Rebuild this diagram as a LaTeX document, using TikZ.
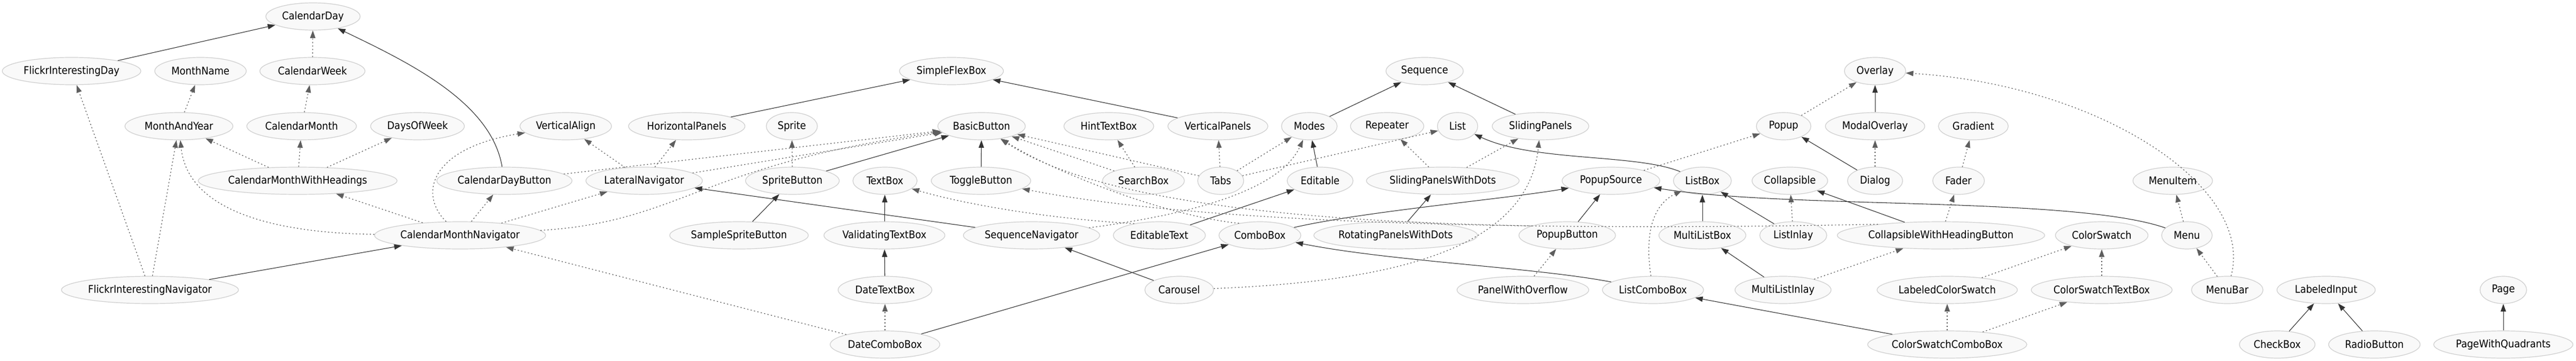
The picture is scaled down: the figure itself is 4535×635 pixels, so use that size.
\documentclass[tikz,border=0pt]{standalone}
\usepackage{fontspec}
\setmainfont{DejaVu Sans Condensed}
\usetikzlibrary{shapes.geometric,arrows.meta}
\definecolor{edgedark}{HTML}{333333}
\definecolor{edgegray}{HTML}{5E5E5E}
\definecolor{nodeborder}{HTML}{D0D0D0}
\definecolor{nodefill}{HTML}{F9F9F9}
\begin{document}
\begin{tikzpicture}[x=0.75pt,y=-0.75pt,
  nd/.style={ellipse,draw=nodeborder,fill=nodefill,line width=0.9pt,minimum height=36pt,inner xsep=1pt,inner ysep=1pt,font=\fontsize{14}{16}\selectfont},
  nw/.style={minimum width=#1*0.75pt},
  inhedge/.style={draw=edgedark,line width=0.8pt,-{Triangle[length=10pt,width=7pt]}},
  useedge/.style={draw=edgegray,line width=0.9pt,dash pattern=on 1.6pt off 3pt,-{Triangle[length=10pt,width=7pt]}}]
\fill[white] (0,0) rectangle (4535,635);
\useasboundingbox (0,0) rectangle (4535,635);
% row 0
\node[nd,nw=166] (CalendarDay) at (551,29) {CalendarDay};
% row 1
\node[nd,nw=244] (FlickrInterestingDay) at (126,125) {FlickrInterestingDay};
\node[nd,nw=161] (MonthName) at (353,125) {MonthName};
\node[nd,nw=185] (CalendarWeek) at (550,125) {CalendarWeek};
\node[nd,nw=183] (SimpleFlexBox) at (1675,125) {SimpleFlexBox};
\node[nd,nw=136] (Sequence) at (2508,125) {Sequence};
\node[nd,nw=108] (Overlay) at (3301,125) {Overlay};
% row 2
\node[nd,nw=190] (MonthAndYear) at (315,222) {MonthAndYear};
\node[nd,nw=193] (CalendarMonth) at (531,222) {CalendarMonth};
\node[nd,nw=165] (DaysOfWeek) at (735,222) {DaysOfWeek};
\node[nd,nw=161] (VerticalAlign) at (996,222) {VerticalAlign};
\node[nd,nw=205] (HorizontalPanels) at (1209,222) {HorizontalPanels};
\node[nd,nw=90] (Sprite) at (1394,222) {Sprite};
\node[nd,nw=154] (BasicButton) at (1728,222) {BasicButton};
\node[nd,nw=158] (HintTextBox) at (1952,222) {HintTextBox};
\node[nd,nw=176] (VerticalPanels) at (2144,222) {VerticalPanels};
\node[nd,nw=98] (Modes) at (2305,222) {Modes};
\node[nd,nw=129] (Repeater) at (2442,222) {Repeater};
\node[nd,nw=71] (List) at (2566,222) {List};
\node[nd,nw=170] (SlidingPanels) at (2712,222) {SlidingPanels};
\node[nd,nw=96] (Popup) at (3140,222) {Popup};
\node[nd,nw=175] (ModalOverlay) at (3301,222) {ModalOverlay};
\node[nd,nw=123] (Gradient) at (3474,222) {Gradient};
% row 3
\node[nd,nw=343] (CalendarMonthWithHeadings) at (524,318) {CalendarMonthWithHeadings};
\node[nd,nw=238] (CalendarDayButton) at (888,318) {CalendarDayButton};
\node[nd,nw=205] (LateralNavigator) at (1134,318) {LateralNavigator};
\node[nd,nw=165] (SpriteButton) at (1395,318) {SpriteButton};
\node[nd,nw=113] (TextBox) at (1558,318) {TextBox};
\node[nd,nw=175] (ToggleButton) at (1727,318) {ToggleButton};
\node[nd,nw=144] (SearchBox) at (2013,318) {SearchBox};
\node[nd,nw=81] (Tabs) at (2149,318) {Tabs};
\node[nd,nw=116] (Editable) at (2324,318) {Editable};
\node[nd,nw=269] (SlidingPanelsWithDots) at (2540,318) {SlidingPanelsWithDots};
\node[nd,nw=172] (PopupSource) at (2836,318) {PopupSource};
\node[nd,nw=102] (ListBox) at (2997,318) {ListBox};
\node[nd,nw=129] (Collapsible) at (3151,318) {Collapsible};
\node[nd,nw=97] (Dialog) at (3301,318) {Dialog};
\node[nd,nw=91] (Fader) at (3448,318) {Fader};
\node[nd,nw=140] (MenuItem) at (3825,318) {MenuItem};
% row 4
\node[nd,nw=297] (CalendarMonthNavigator) at (810,414) {CalendarMonthNavigator};
\node[nd,nw=244] (SampleSpriteButton) at (1301,414) {SampleSpriteButton};
\node[nd,nw=208] (ValidatingTextBox) at (1557,414) {ValidatingTextBox};
\node[nd,nw=240] (SequenceNavigator) at (1816,414) {SequenceNavigator};
\node[nd,nw=162] (EditableText) at (2041,414) {EditableText};
\node[nd,nw=144] (ComboBox) at (2218,414) {ComboBox};
\node[nd,nw=287] (RotatingPanelsWithDots) at (2457,414) {RotatingPanelsWithDots};
\node[nd,nw=170] (PopupButton) at (2759,414) {PopupButton};
\node[nd,nw=153] (MultiListBox) at (2997,414) {MultiListBox};
\node[nd,nw=118] (ListInlay) at (3157,414) {ListInlay};
\node[nd,nw=353] (CollapsibleWithHeadingButton) at (3417,414) {CollapsibleWithHeadingButton};
\node[nd,nw=163] (ColorSwatch) at (3700,414) {ColorSwatch};
\node[nd,nw=89] (Menu) at (3850,414) {Menu};
% row 5
\node[nd,nw=306] (FlickrInterestingNavigator) at (264,510) {FlickrInterestingNavigator};
\node[nd,nw=165] (DateTextBox) at (1558,510) {DateTextBox};
\node[nd,nw=121] (Carousel) at (2076,510) {Carousel};
\node[nd,nw=232] (PanelWithOverflow) at (2681,510) {PanelWithOverflow};
\node[nd,nw=178] (ListComboBox) at (2910,510) {ListComboBox};
\node[nd,nw=169] (MultiListInlay) at (3139,510) {MultiListInlay};
\node[nd,nw=247] (LabeledColorSwatch) at (3428,510) {LabeledColorSwatch};
\node[nd,nw=248] (ColorSwatchTextBox) at (3700,510) {ColorSwatchTextBox};
\node[nd,nw=126] (MenuBar) at (3921,510) {MenuBar};
\node[nd,nw=173] (LabeledInput) at (4095,510) {LabeledInput};
\node[nd,nw=82] (Page) at (4407,510) {Page};
% row 6
\node[nd,nw=193] (DateComboBox) at (1558,606) {DateComboBox};
\node[nd,nw=277] (ColorSwatchComboBox) at (3428,606) {ColorSwatchComboBox};
\node[nd,nw=133] (CheckBox) at (4009,606) {CheckBox};
\node[nd,nw=161] (RadioButton) at (4180,606) {RadioButton};
\node[nd,nw=245] (PageWithQuadrants) at (4407,606) {PageWithQuadrants};

% solid (inheritance) edges
\draw[inhedge] (FlickrInterestingDay) -- (CalendarDay);
\draw[inhedge] (CalendarDayButton) .. controls (865,180) and (720,110) .. (CalendarDay);
\draw[inhedge] (HorizontalPanels) -- (SimpleFlexBox);
\draw[inhedge] (VerticalPanels) -- (SimpleFlexBox);
\draw[inhedge] (Modes) -- (Sequence);
\draw[inhedge] (SlidingPanels) -- (Sequence);
\draw[inhedge] (ModalOverlay) -- (Overlay);
\draw[inhedge] (SpriteButton) -- (BasicButton);
\draw[inhedge] (ToggleButton) -- (BasicButton);
\draw[inhedge] (Editable) -- (Modes);
\draw[inhedge] (ListBox) .. controls (2880,270) and (2700,285) .. (List);
\draw[inhedge] (Dialog) -- (Popup);
\draw[inhedge] (CollapsibleWithHeadingButton) -- (Collapsible);
\draw[inhedge] (SampleSpriteButton) -- (SpriteButton);
\draw[inhedge] (ValidatingTextBox) -- (TextBox);
\draw[inhedge] (SequenceNavigator) -- (LateralNavigator);
\draw[inhedge] (EditableText) -- (Editable);
\draw[inhedge] (ComboBox) .. controls (2400,372) and (2650,350) .. (PopupSource);
\draw[inhedge] (RotatingPanelsWithDots) -- (SlidingPanelsWithDots);
\draw[inhedge] (PopupButton) -- (PopupSource);
\draw[inhedge] (MultiListBox) -- (ListBox);
\draw[inhedge] (ListInlay) -- (ListBox);
\draw[inhedge] (Menu) .. controls (3650,345) and (3150,368) .. (PopupSource);
\draw[inhedge] (FlickrInterestingNavigator) -- (CalendarMonthNavigator);
\draw[inhedge] (DateTextBox) -- (ValidatingTextBox);
\draw[inhedge] (Carousel) -- (SequenceNavigator);
\draw[inhedge] (ListComboBox) .. controls (2700,470) and (2450,460) .. (ComboBox);
\draw[inhedge] (MultiListInlay) -- (MultiListBox);
\draw[inhedge] (CheckBox) -- (LabeledInput);
\draw[inhedge] (RadioButton) -- (LabeledInput);
\draw[inhedge] (PageWithQuadrants) -- (Page);
\draw[inhedge] (DateComboBox) -- (ComboBox);
\draw[inhedge] (ColorSwatchComboBox) -- (ListComboBox);

% dotted (usage) edges
\draw[useedge] (CalendarWeek) -- (CalendarDay);
\draw[useedge] (MonthAndYear) -- (MonthName);
\draw[useedge] (CalendarMonth) -- (CalendarWeek);
\draw[useedge] (CalendarMonthWithHeadings) -- (MonthAndYear);
\draw[useedge] (CalendarMonthWithHeadings) -- (CalendarMonth);
\draw[useedge] (CalendarMonthWithHeadings) -- (DaysOfWeek);
\draw[useedge] (CalendarDayButton) -- (BasicButton);
\draw[useedge] (LateralNavigator) -- (VerticalAlign);
\draw[useedge] (LateralNavigator) -- (HorizontalPanels);
\draw[useedge] (LateralNavigator) -- (BasicButton);
\draw[useedge] (SpriteButton) -- (Sprite);
\draw[useedge] (SearchBox) -- (HintTextBox);
\draw[useedge] (SearchBox) -- (BasicButton);
\draw[useedge] (Tabs) -- (BasicButton);
\draw[useedge] (Tabs) -- (VerticalPanels);
\draw[useedge] (Tabs) -- (Modes);
\draw[useedge] (Tabs) -- (List);
\draw[useedge] (SlidingPanelsWithDots) -- (Repeater);
\draw[useedge] (SlidingPanelsWithDots) -- (SlidingPanels);
\draw[useedge] (PopupSource) -- (Popup);
\draw[useedge] (Popup) -- (Overlay);
\draw[useedge] (Dialog) -- (ModalOverlay);
\draw[useedge] (Fader) -- (Gradient);
\draw[useedge] (ListInlay) -- (Collapsible);
\draw[useedge] (Menu) -- (MenuItem);
\draw[useedge] (CalendarMonthNavigator) .. controls (480,410) and (330,370) .. (MonthAndYear);
\draw[useedge] (CalendarMonthNavigator) -- (CalendarMonthWithHeadings);
\draw[useedge] (CalendarMonthNavigator) .. controls (735,340) and (760,260) .. (VerticalAlign);
\draw[useedge] (CalendarMonthNavigator) -- (CalendarDayButton);
\draw[useedge] (CalendarMonthNavigator) -- (LateralNavigator);
\draw[useedge] (CalendarMonthNavigator) .. controls (1200,390) and (1230,290) .. (BasicButton);
\draw[useedge] (SequenceNavigator) .. controls (2150,370) and (2260,320) .. (Modes);
\draw[useedge] (EditableText.155) .. controls (1850,385) and (1700,360) .. (TextBox);
\draw[useedge] (ComboBox.150) .. controls (2050,380) and (1850,300) .. (BasicButton);
\draw[useedge] (PopupButton.165) .. controls (2400,392) and (1950,370) .. (BasicButton);
\draw[useedge] (CollapsibleWithHeadingButton.170) .. controls (2800,405) and (2150,400) .. (ToggleButton);
\draw[useedge] (CollapsibleWithHeadingButton) -- (Fader);
\draw[useedge] (LabeledColorSwatch) -- (ColorSwatch);
\draw[useedge] (ColorSwatchTextBox) -- (ColorSwatch);
\draw[useedge] (MultiListInlay) -- (CollapsibleWithHeadingButton);
\draw[useedge] (FlickrInterestingNavigator) -- (FlickrInterestingDay);
\draw[useedge] (FlickrInterestingNavigator) -- (MonthAndYear);
\draw[useedge] (Carousel) .. controls (2450,495) and (2690,440) .. (SlidingPanels);
\draw[useedge] (ListComboBox) .. controls (2895,410) and (2910,360) .. (ListBox);
\draw[useedge] (PanelWithOverflow) -- (PopupButton);
\draw[useedge] (MenuBar) -- (Menu);
\draw[useedge] (MenuBar) .. controls (3970,330) and (3700,150) .. (Overlay);
\draw[useedge] (DateComboBox) -- (CalendarMonthNavigator);
\draw[useedge] (DateComboBox) -- (DateTextBox);
\draw[useedge] (ColorSwatchComboBox) -- (LabeledColorSwatch);
\draw[useedge] (ColorSwatchComboBox) -- (ColorSwatchTextBox);
\end{tikzpicture}
\end{document}
